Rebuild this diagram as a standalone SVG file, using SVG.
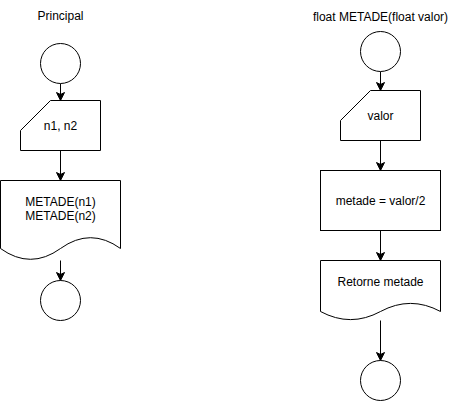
<svg xmlns="http://www.w3.org/2000/svg" width="455" height="401" viewBox="0 0 455 401">
<style>
.s{fill:#fff;stroke:#000;stroke-width:1}
.t{font-family:"Liberation Sans",Arial,sans-serif;font-size:12px;fill:#000;text-anchor:middle}
.c{fill:none;stroke:#000;stroke-width:1}
</style>
<defs>
<marker id="arr" viewBox="-1 -5 10 10" refX="8" refY="0" markerWidth="10" markerHeight="10" markerUnits="userSpaceOnUse" orient="auto">
<path d="M0,-4 L8,0 L0,4 L2,0 Z" fill="#000" stroke="#000" stroke-width="1"/>
</marker>
</defs>
<rect width="455" height="401" fill="#fff"/>
<g id="title-principal"><text class="t" x="60.5" y="19.5">Principal</text></g>
<g id="title-metade"><text class="t" x="380.5" y="21">float METADE(float valor)</text></g>
<g id="connectors">
<line class="c" x1="60.5" y1="83.5" x2="60.5" y2="100.5" marker-end="url(#arr)"/>
<line class="c" x1="60.5" y1="150.5" x2="60.5" y2="180.5" marker-end="url(#arr)"/>
<line class="c" x1="60.5" y1="260.5" x2="60.5" y2="280.5" marker-end="url(#arr)"/>
<line class="c" x1="380.5" y1="71.5" x2="380.5" y2="90.5" marker-end="url(#arr)"/>
<line class="c" x1="380.5" y1="140.5" x2="380.5" y2="170.5" marker-end="url(#arr)"/>
<line class="c" x1="380.5" y1="230.5" x2="380.5" y2="260.5" marker-end="url(#arr)"/>
<line class="c" x1="380.5" y1="320.5" x2="380.5" y2="360.5" marker-end="url(#arr)"/>
</g>
<g id="start1"><circle class="s" cx="60.5" cy="63.5" r="20"/></g>
<g id="input1"><path class="s" d="M50.5,100.5 L100.5,100.5 L100.5,150.5 L20.5,150.5 L20.5,130.5 Z"/><text class="t" x="60.5" y="129.5">n1, n2</text></g>
<g id="doc1"><path class="s" d="M0.5,180.5 L120.5,180.5 L120.5,248.5 Q90.5,226.9 60.5,248.5 Q30.5,270.1 0.5,248.5 Z"/><text class="t" x="60.5" y="206">METADE(n1)</text><text class="t" x="60.5" y="220">METADE(n2)</text></g>
<g id="end1"><circle class="s" cx="60.5" cy="300.5" r="20"/></g>
<g id="start2"><circle class="s" cx="380.5" cy="51.5" r="20"/></g>
<g id="input2"><path class="s" d="M370.5,90.5 L420.5,90.5 L420.5,140.5 L340.5,140.5 L340.5,120.5 Z"/><text class="t" x="380.5" y="119.5">valor</text></g>
<g id="process"><rect class="s" x="320.5" y="170.5" width="120" height="60"/><text class="t" x="380.5" y="204.5">metade = valor/2</text></g>
<g id="doc2"><path class="s" d="M320.5,260.5 L440.5,260.5 L440.5,311.5 Q410.5,295.3 380.5,311.5 Q350.5,327.7 320.5,311.5 Z"/><text class="t" x="380.5" y="286">Retorne metade</text></g>
<g id="end2"><circle class="s" cx="380.5" cy="380.5" r="20"/></g>
</svg>
